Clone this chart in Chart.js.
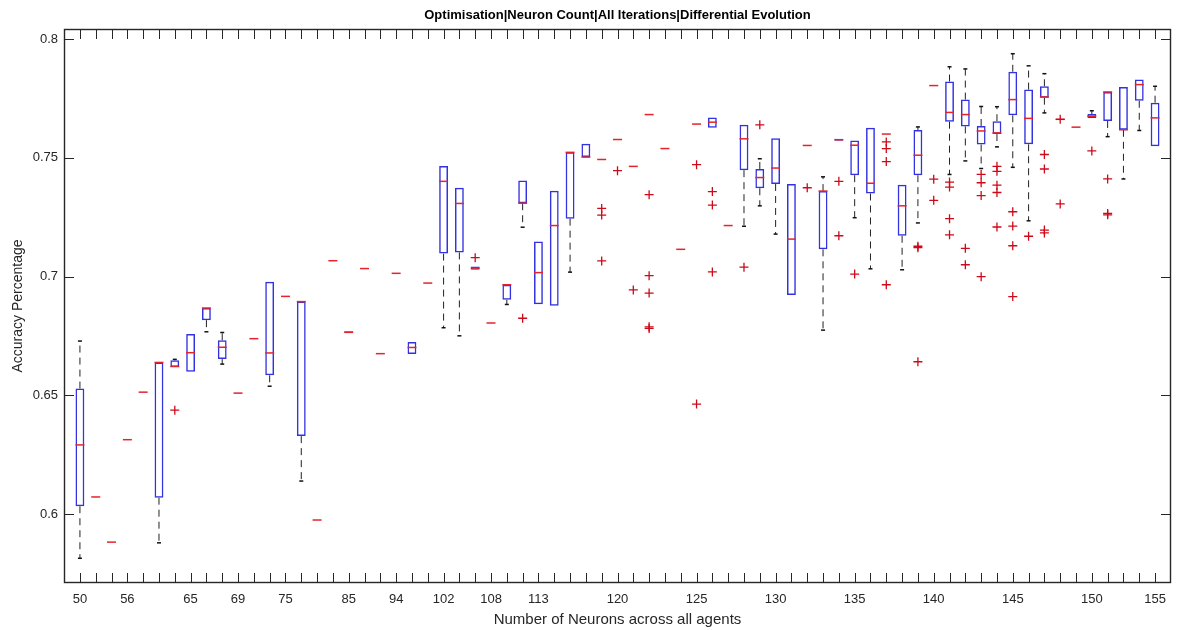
<!DOCTYPE html>
<html>
<head>
<meta charset="utf-8">
<title>Neuron count boxplot</title>
<script src="https://cdn.jsdelivr.net/npm/chart.js@4.4.0/dist/chart.umd.min.js"></script>
<style>
  html, body { margin: 0; padding: 0; background: #fff; }
</style>
</head>
<body>
<canvas id="boxChart" width="1177" height="630"></canvas>
<script>
// one slot per neuron-count group, blank where no label is printed
const tickLabels = [
  '50', '', '', '56', '', '', '', '65', '', '', '69', '', '', '75', '', '', '',
  '85', '', '', '94', '', '', '102', '', '', '108', '', '', '113', '', '', '', '',
  '120', '', '', '', '', '125', '', '', '', '', '130', '', '', '', '', '135', '', '', '', '',
  '140', '', '', '', '', '145', '', '', '', '', '150', '', '', '', '155'
];
const yTicks = [0.6, 0.65, 0.7, 0.75, 0.8];

// box statistics per group (groups with one run collapse to a single median)
const q1 = [
  .6034, .6073, .5883, .6314, .6514, .6070, .6620, .6600, .6817, .6653,
  .6510, .6739, .6585, .6917, .6329, .5976, .7067, .6762, .7034, .6676,
  .7014, .6675, .6973, .7097, .7102, .7029, .6805, .6903, .7309, .6884,
  .6878, .7244, .7503, .7493, .7577, .7464, .7682, .7539, .7115, .7642,
  .7626, .7215, .7448, .7372, .7390, .6923, .7552, .7115, .7572, .7427,
  .7350, .7600, .7172, .7427, .7804, .7652, .7632, .7556, .7600, .7679,
  .7557, .7753, .7662, .7629, .7668, .7655, .7618, .7740, .7549
];
const medians = [
  .6292, .6073, .5883, .6314, .6514, .6639, .6622, .6680, .6868, .6703,
  .6510, .6739, .6679, .6917, .6895, .5976, .7067, .6766, .7034, .6676,
  .7014, .6702, .6973, .7401, .7308, .7036, .6805, .6966, .7309, .7017,
  .7215, .7523, .7503, .7493, .7577, .7464, .7682, .7539, .7115, .7642,
  .7650, .7215, .7580, .7417, .7457, .7158, .7552, .7360, .7576, .7553,
  .7393, .7600, .7298, .7511, .7804, .7691, .7682, .7613, .7605, .7745,
  .7666, .7756, .7662, .7629, .7675, .7777, .7618, .7808, .7668
];
const q3 = [
  .6529, .6073, .5883, .6314, .6514, .6639, .6648, .6759, .6868, .6732,
  .6510, .6739, .6979, .6917, .6895, .5976, .7067, .6770, .7034, .6676,
  .7014, .6725, .6973, .7466, .7374, .7043, .6805, .6966, .7405, .7148,
  .7361, .7523, .7559, .7493, .7577, .7464, .7682, .7539, .7115, .7642,
  .7670, .7215, .7639, .7453, .7582, .7390, .7552, .7360, .7580, .7573,
  .7626, .7600, .7387, .7617, .7804, .7821, .7745, .7634, .7654, .7862,
  .7787, .7801, .7662, .7629, .7684, .7777, .7798, .7830, .7732
];
const whiskerLo = [
  .5815, .6073, .5883, .6314, .6514, .5880, .6620, .6600, .6768, .6632,
  .6510, .6739, .6539, .6917, .6140, .5976, .7067, .6762, .7034, .6676,
  .7014, .6675, .6973, .6785, .6751, .7029, .6805, .6883, .7208, .6884,
  .6878, .7019, .7503, .7493, .7577, .7464, .7682, .7539, .7115, .7642,
  .7626, .7215, .7212, .7298, .7179, .6923, .7552, .6775, .7572, .7248,
  .7033, .7600, .7029, .7226, .7804, .7430, .7487, .7455, .7546, .7460,
  .7235, .7689, .7662, .7629, .7668, .7589, .7411, .7615, .7549
];
const whiskerHi = [
  .6729, .6073, .5883, .6314, .6514, .6639, .6652, .6759, .6868, .6765,
  .6510, .6739, .6979, .6917, .6895, .5976, .7067, .6770, .7034, .6676,
  .7014, .6725, .6973, .7466, .7374, .7043, .6805, .6966, .7405, .7148,
  .7361, .7523, .7559, .7493, .7577, .7464, .7682, .7539, .7115, .7642,
  .7670, .7215, .7639, .7496, .7582, .7390, .7552, .7420, .7580, .7573,
  .7626, .7600, .7387, .7630, .7804, .7883, .7874, .7716, .7715, .7938,
  .7887, .7854, .7662, .7629, .7698, .7777, .7798, .7830, .7801
];
const outliers = [
  [], [], [], [], [], [], [.6438], [], [], [],
  [], [], [], [], [], [], [], [], [], [],
  [], [], [], [], [], [.7080], [], [], [.6825], [],
  [], [], [], [.7287, .7259, .7066], [.7446], [.6944], [.7345, .7004, .6931, .6789, .6782], [], [], [.7471, .6464],
  [.7358, .7301, .7020], [], [.7040], [.7639], [], [], [.7374], [], [.7401, .7172], [.7011],
  [], [.7567, .7539, .7484, .6966], [], [.7128, .7122, .6642], [.7410, .7321], [.7398, .7377, .7244, .7176], [.7119, .7050], [.7430, .7395, .7341, .7000], [.7464, .7443, .7385, .7354, .7209], [.7273, .7213, .7130, .6916],
  [.7170], [.7514, .7453, .7196, .7184], [.7662, .7306], [], [.7529], [.7411, .7266, .7260], [], [], []
];

const groups = tickLabels.map((_, i) => i);

const boxData = groups
  .filter(i => q3[i] > q1[i])
  .map(i => ({ x: i, y: [q1[i], q3[i]] }));

// dashed whiskers: two segments per group, split by null points
const whiskerData = [];
const capData = [];
groups.forEach(i => {
  if (whiskerLo[i] < q1[i]) {
    whiskerData.push({ x: i, y: q1[i] }, { x: i, y: whiskerLo[i] }, { x: i, y: null });
    capData.push({ x: i, y: whiskerLo[i] });
  }
  if (whiskerHi[i] > q3[i]) {
    whiskerData.push({ x: i, y: q3[i] }, { x: i, y: whiskerHi[i] }, { x: i, y: null });
    capData.push({ x: i, y: whiskerHi[i] });
  }
});

const medianData = groups.map(i => ({ x: i, y: medians[i] }));
const outlierData = groups.flatMap(i => outliers[i].map(v => ({ x: i, y: v })));

const FONT = 'Liberation Sans, Arial, Helvetica, sans-serif';

// matlab-style frame with inward tick marks on all four sides
const frameTicks = {
  id: 'frameTicks',
  afterDatasetsDraw(chart) {
    const { ctx, chartArea: a, scales: { x, y } } = chart;
    ctx.save();
    ctx.strokeStyle = '#262626';
    ctx.lineWidth = 1;
    ctx.beginPath();
    x.ticks.forEach(t => {
      const px = Math.round(x.getPixelForValue(t.value)) + 0.5;
      ctx.moveTo(px, a.bottom); ctx.lineTo(px, a.bottom - 10);
      ctx.moveTo(px, a.top); ctx.lineTo(px, a.top + 10);
    });
    y.ticks.forEach(t => {
      const py = Math.round(y.getPixelForValue(t.value)) + 0.5;
      ctx.moveTo(a.left, py); ctx.lineTo(a.left + 10, py);
      ctx.moveTo(a.right, py); ctx.lineTo(a.right - 10, py);
    });
    ctx.stroke();
    ctx.lineWidth = 1.4;
    ctx.strokeRect(a.left + 0.5, a.top + 0.5, a.width - 1, a.height - 1);
    ctx.restore();
  }
};

new Chart(document.getElementById('boxChart'), {
  data: {
    datasets: [
      {
        type: 'line',
        data: whiskerData,
        borderColor: '#222',
        borderWidth: 1,
        borderDash: [7, 5],
        pointRadius: 0,
        spanGaps: false,
        order: 5
      },
      {
        type: 'bar',
        data: boxData,
        backgroundColor: 'rgba(0,0,0,0)',
        borderColor: 'rgb(50,50,225)',
        borderWidth: 1.5,
        borderSkipped: false,
        barPercentage: 0.56,
        categoryPercentage: 1,
        order: 4
      },
      {
        type: 'scatter',
        data: capData,
        pointStyle: 'line',
        pointRadius: 2,
        borderColor: '#111',
        borderWidth: 1.5,
        order: 3
      },
      {
        type: 'scatter',
        data: medianData,
        pointStyle: 'line',
        pointRadius: 4.5,
        borderColor: 'rgb(228,35,45)',
        borderWidth: 1.5,
        order: 2
      },
      {
        type: 'scatter',
        data: outlierData,
        pointStyle: 'cross',
        pointRadius: 4.5,
        borderColor: 'rgb(205,10,25)',
        borderWidth: 1.3,
        order: 1
      }
    ]
  },
  options: {
    responsive: false,
    animation: false,
    events: [],
    layout: { padding: { left: 0, right: 6, top: 0, bottom: 0 } },
    plugins: {
      legend: { display: false },
      tooltip: { enabled: false }
    },
    scales: {
      x: {
        type: 'linear',
        min: -0.5,
        max: 68.5,
        grid: { display: false, drawTicks: false },
        border: { display: false },
        afterBuildTicks: s => { s.ticks = groups.map(i => ({ value: i })); },
        afterFit: s => { s.height = 47; s.paddingLeft = 0; s.paddingRight = 0; },
        ticks: {
          autoSkip: false,
          maxRotation: 0,
          minRotation: 0,
          padding: 9,
          color: '#262626',
          font: { family: FONT, size: 13 },
          callback: v => tickLabels[v]
        },
        title: {
          display: true,
          text: 'Number of Neurons across all agents',
          color: '#262626',
          font: { family: FONT, size: 15 },
          padding: { top: 0, bottom: 1 }
        }
      },
      // top axis only carries the title, centred over the plot box
      xTop: {
        type: 'linear',
        position: 'top',
        min: -0.5,
        max: 68.5,
        grid: { display: false, drawTicks: false },
        border: { display: false },
        ticks: { display: false },
        afterFit: s => { s.height = 29; s.paddingLeft = 0; s.paddingRight = 0; },
        title: {
          display: true,
          text: 'Optimisation|Neuron Count|All Iterations|Differential Evolution',
          color: '#000',
          font: { family: FONT, size: 13, weight: 'bold', lineHeight: 1.15 },
          padding: { top: 8, bottom: 0 }
        }
      },
      y: {
        min: 0.5711,
        max: 0.8042,
        grid: { display: false, drawTicks: false },
        border: { display: false },
        afterBuildTicks: s => { s.ticks = yTicks.map(v => ({ value: v })); },
        afterFit: s => { s.width = 64; s.paddingTop = 0; s.paddingBottom = 0; },
        ticks: {
          padding: 6,
          color: '#262626',
          font: { family: FONT, size: 13 },
          callback: v => String(+v.toFixed(2))
        },
        title: {
          display: true,
          text: 'Accuracy Percentage',
          color: '#262626',
          font: { family: FONT, size: 14 },
          padding: { top: 10, bottom: 0 }
        }
      }
    }
  },
  plugins: [frameTicks]
});
</script>
</body>
</html>
